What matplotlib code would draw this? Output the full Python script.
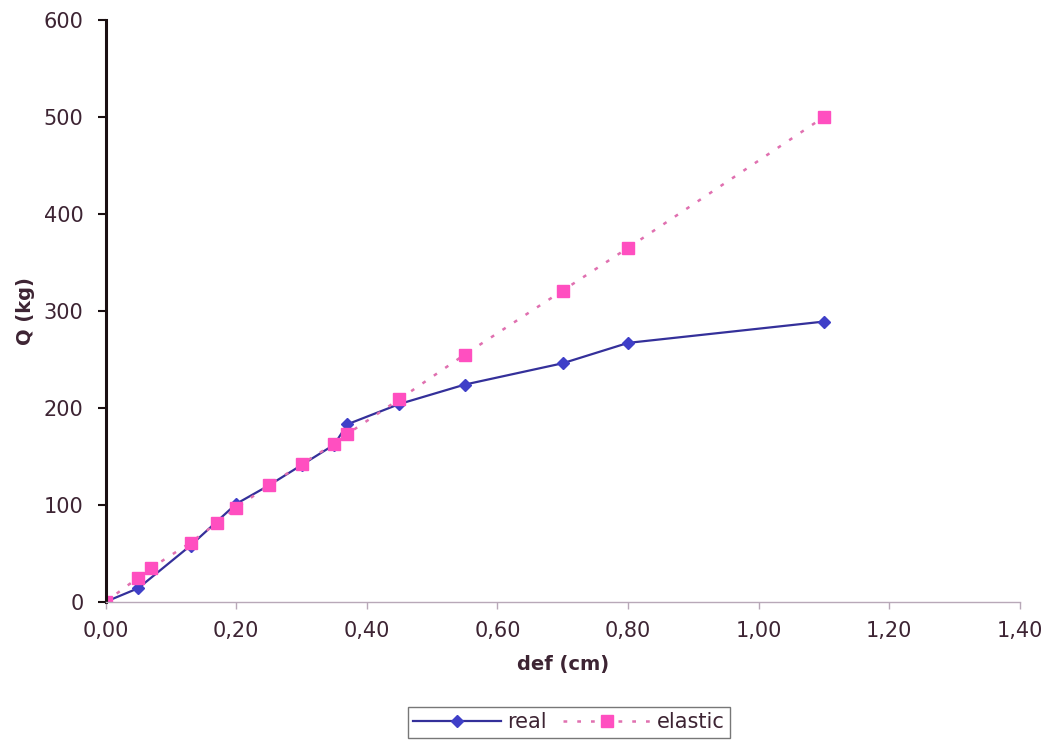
import matplotlib.pyplot as plt
from matplotlib.ticker import FuncFormatter

plt.rcParams['font.family'] = ['DejaVu Sans']

# deformacion (cm) y carga (kg)
def_real = [0.00, 0.05, 0.13, 0.20, 0.25, 0.30, 0.35, 0.37, 0.45, 0.55, 0.70, 0.80, 1.10]
q_real = [0, 14, 58, 101, 120, 141, 162, 183, 204, 224, 246, 267, 289]

def_elastic = [0.00, 0.05, 0.07, 0.13, 0.17, 0.20, 0.25, 0.30, 0.35, 0.37, 0.45, 0.55, 0.70, 0.80, 1.10]
q_elastic = [0, 25, 35, 61, 81, 97, 120, 142, 163, 173, 209, 255, 321, 365, 500]

texto = '#3d2433'

fig = plt.figure(figsize=(10.46, 7.42), dpi=100)
ax = fig.add_axes([0.101, 0.189, 0.874, 0.784])

ax.plot(def_real, q_real, color='#34309a', linewidth=1.6, marker='D',
        markersize=6, markerfacecolor='#3f3fc8', markeredgecolor='#3f3fc8', label='real')
ax.plot(def_elastic, q_elastic, color='#e070b0', linewidth=1.8, linestyle=(0, (1.5, 4)),
        marker='s', markersize=8, markerfacecolor='#ff4fc0', markeredgecolor='#ff4fc0', label='elastic')

ax.set_xlim(0, 1.40)
ax.set_ylim(0, 600)
ax.set_xticks([0, 0.2, 0.4, 0.6, 0.8, 1.0, 1.2, 1.4])
ax.set_yticks(range(0, 601, 100))
ax.xaxis.set_major_formatter(FuncFormatter(lambda v, p: f'{v:.2f}'.replace('.', ',')))

for lado in ['top', 'right']:
    ax.spines[lado].set_visible(False)
ax.spines['left'].set_linewidth(2.2)
ax.spines['left'].set_color('#1a1012')
ax.spines['bottom'].set_linewidth(1.0)
ax.spines['bottom'].set_color('#b8a8b8')

ax.tick_params(axis='y', direction='out', length=6, width=1.5, colors='#1a1012',
               labelsize=15, labelcolor=texto, pad=10)
ax.tick_params(axis='x', direction='out', length=5, width=1, colors='#b8a8b8',
               labelsize=15, labelcolor=texto, pad=9)

ax.set_xlabel('def (cm)', fontsize=14, fontweight='bold', color=texto, labelpad=10)
ax.set_ylabel('Q (kg)', fontsize=14, fontweight='bold', color=texto, labelpad=6)

fig.legend(loc='lower center', bbox_to_anchor=(0.544, -0.008), ncol=2, fontsize=15,
           frameon=True, fancybox=False, edgecolor='#555555', handlelength=4.2,
           columnspacing=0.8, handletextpad=0.3, borderpad=0.25, labelcolor=texto)

fig.savefig('out.png', dpi=100)
